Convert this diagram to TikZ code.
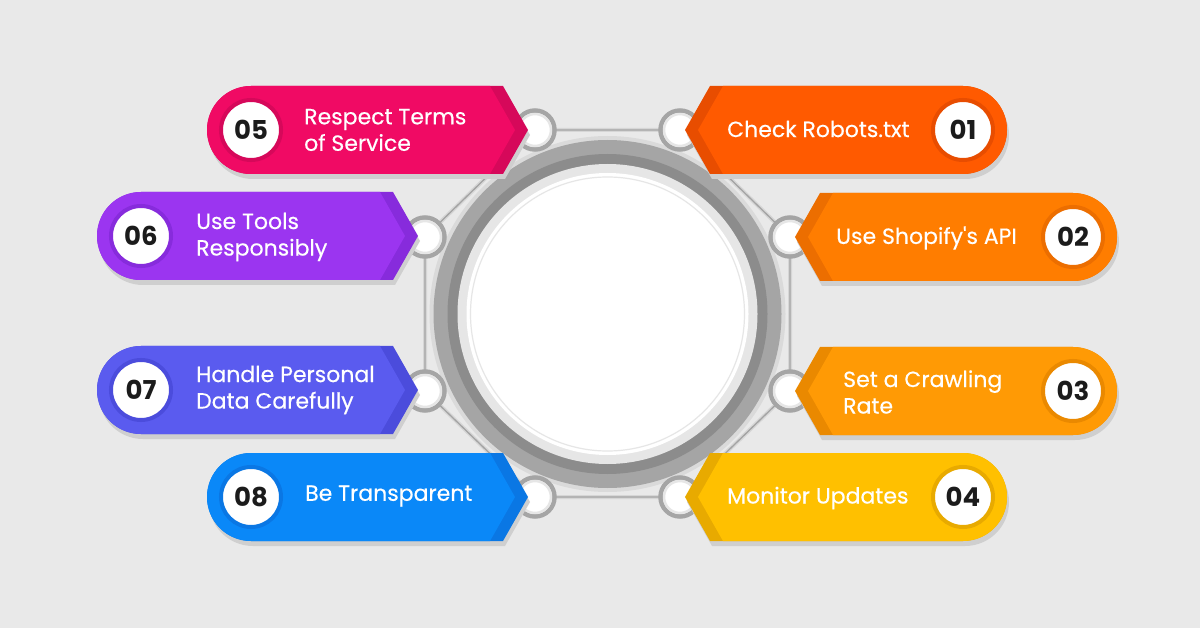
\documentclass[tikz,border=0pt]{standalone}
\usepackage{fontspec}
\setmainfont{Poppins}
\newfontfamily\pmed{Poppins}[FakeBold=0.4]
\definecolor{bg}{HTML}{E9E9E9}
\definecolor{shadowc}{HTML}{CFCFCF}
\definecolor{ringA}{HTML}{A5A5A5}
\definecolor{ringB}{HTML}{8C8C8C}
\definecolor{ringC}{HTML}{E6E6E6}
\definecolor{halo}{HTML}{DADADA}
\definecolor{linelight}{HTML}{D6D6D6}
\definecolor{linedark}{HTML}{A3A3A3}
\definecolor{numtext}{HTML}{1B1B1B}
\definecolor{mFive}{HTML}{F00A64}\definecolor{dFive}{HTML}{D6085A}
\definecolor{mSix}{HTML}{9B35F0}\definecolor{dSix}{HTML}{872BDC}
\definecolor{mSeven}{HTML}{5A5BEF}\definecolor{dSeven}{HTML}{4B4CDC}
\definecolor{mEight}{HTML}{0A88F8}\definecolor{dEight}{HTML}{0A77E4}
\definecolor{mOne}{HTML}{FF5A00}\definecolor{dOne}{HTML}{E84D00}
\definecolor{mTwo}{HTML}{FF7D00}\definecolor{dTwo}{HTML}{EC6E00}
\definecolor{mThree}{HTML}{FF9A05}\definecolor{dThree}{HTML}{EA8900}
\definecolor{mFour}{HTML}{FFC000}\definecolor{dFour}{HTML}{E8AA00}
\tikzset{
  smallcirc/.style={circle, draw=ringA, line width=4.5pt, fill=white, minimum size=39pt, inner sep=0pt},
  numcirc/.style={circle, line width=4pt, fill=white, minimum size=60pt, inner sep=0pt,
    text=numtext, font=\bfseries\fontsize{26}{26}\selectfont},
  lbl/.style={anchor=west, align=left, text=white, inner sep=0pt,
    font=\pmed\fontsize{22}{26.5}\selectfont},
  octline/.style={draw=linelight, line width=4pt},
  octcore/.style={draw=linedark, line width=1.3pt},
}
% left pill: #1 left x, #2 mid y, #3 dark, #4 main
\newcommand\LPill[4]{%
  \fill[shadowc] ({#1+46},{#2-39}) -- ({#1+298},{#2-39}) -- ({#1+323},{#2+5}) -- ({#1+298},{#2+49}) -- ({#1+46},{#2+49}) arc[start angle=270,end angle=90,radius=44pt] -- cycle;
  \fill[#3] ({#1+44},{#2-44}) -- ({#1+296},{#2-44}) -- ({#1+321},{#2}) -- ({#1+296},{#2+44}) -- ({#1+44},{#2+44}) arc[start angle=270,end angle=90,radius=44pt] -- cycle;
  \fill[#4] ({#1+44},{#2-44}) -- ({#1+283},{#2-44}) -- ({#1+308},{#2}) -- ({#1+283},{#2+44}) -- ({#1+44},{#2+44}) arc[start angle=270,end angle=90,radius=44pt] -- cycle;
}
% right pill: #1 tip x, #2 mid y, #3 dark, #4 main
\newcommand\RPill[4]{%
  \fill[shadowc] ({#1+2},{#2+5}) -- ({#1+27},{#2-39}) -- ({#1+280},{#2-39}) arc[start angle=90,end angle=-90,radius=44pt] -- ({#1+27},{#2+49}) -- cycle;
  \fill[#3] ({#1},{#2}) -- ({#1+25},{#2-44}) -- ({#1+278},{#2-44}) arc[start angle=90,end angle=-90,radius=44pt] -- ({#1+25},{#2+44}) -- cycle;
  \fill[#4] ({#1+13},{#2}) -- ({#1+38},{#2-44}) -- ({#1+278},{#2-44}) arc[start angle=90,end angle=-90,radius=44pt] -- ({#1+38},{#2+44}) -- cycle;
}
\begin{document}
\begin{tikzpicture}[x=1pt,y=-1pt]
\useasboundingbox (0,0) rectangle (1200,628);
\fill[bg] (0,0) rectangle (1200,628);

% octagon positions
\coordinate (p5) at (535,130);
\coordinate (p1) at (680,130);
\coordinate (p2) at (790,237);
\coordinate (p3) at (790,391);
\coordinate (p4) at (680,497);
\coordinate (p8) at (535,497);
\coordinate (p7) at (425,391);
\coordinate (p6) at (425,237);
\draw[octline] (p5) -- (p1) -- (p2) -- (p3) -- (p4) -- (p8) -- (p7) -- (p6) -- cycle;
\draw[octcore] (p5) -- (p1) -- (p2) -- (p3) -- (p4) -- (p8) -- (p7) -- (p6) -- cycle;

% hub
\node[circle, fill=halo, minimum size=356pt, inner sep=0pt] (hub) at (607.5,314) {};
\fill[ringA] (hub.center) circle[radius=174pt];
\fill[ringB] (hub.center) circle[radius=160pt];
\fill[ringC] (hub.center) circle[radius=150pt];
\fill[white] (hub.center) circle[radius=141pt];
\draw[ringC, line width=1.2pt] (hub.center) circle[radius=137pt];

% small circles
\foreach \p in {p1,p2,p3,p4,p5,p6,p7,p8}{
  \node[smallcirc] (s\p) at (\p) {};
  \draw[ringC, line width=2.5pt] (\p) circle[radius=16pt];
}

% pills
\LPill{207}{130}{dFive}{mFive}
\LPill{97}{236}{dSix}{mSix}
\LPill{97}{390}{dSeven}{mSeven}
\LPill{207}{497}{dEight}{mEight}
\RPill{685}{130}{dOne}{mOne}
\RPill{795}{237}{dTwo}{mTwo}
\RPill{795}{391}{dThree}{mThree}
\RPill{685}{497}{dFour}{mFour}

% numbers
\node[numcirc, draw=dFive] (n5) at (251,130) {05};
\node[numcirc, draw=dSix] (n6) at (141,236) {06};
\node[numcirc, draw=dSeven] (n7) at (141,390) {07};
\node[numcirc, draw=dEight] (n8) at (251,497) {08};
\node[numcirc, draw=dOne] (n1) at (963,130) {01};
\node[numcirc, draw=dTwo] (n2) at (1073,237) {02};
\node[numcirc, draw=dThree] (n3) at (1073,391) {03};
\node[numcirc, draw=dFour] (n4) at (963,497) {04};

% labels
\node[lbl] (t5) at (304,130) {Respect Terms\\of Service};
\node[lbl] (t6) at (196,237) {Use Tools\\Responsibly};
\node[lbl] (t7) at (196,390) {Handle Personal\\Data Carefully};
\node[lbl] (t8) at (305,496) {Be Transparent};
\node[lbl] (t1) at (727,129) {Check Robots.txt};
\node[lbl] (t2) at (836,238) {Use Shopify\textquotesingle s API};
\node[lbl] (t3) at (843,392) {Set a Crawling\\Rate};
\node[lbl] (t4) at (727,498) {Monitor Updates};
\end{tikzpicture}
\end{document}
